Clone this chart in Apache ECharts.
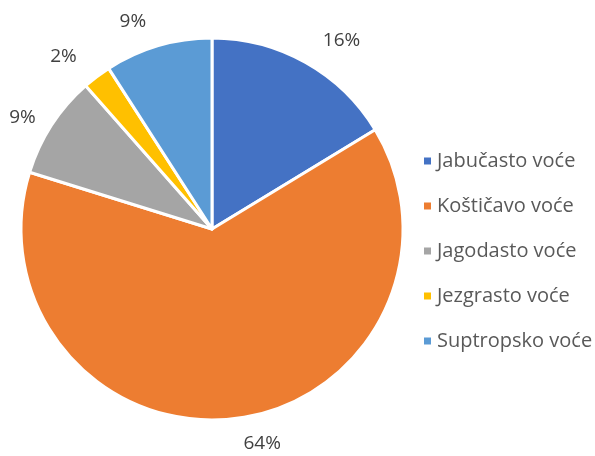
<!DOCTYPE html>
<html>
<head>
<meta charset="utf-8">
<script src="https://cdn.jsdelivr.net/npm/echarts@6/dist/echarts.min.js"></script>
<style>
html,body{margin:0;padding:0;background:#fff;}
#main{width:595px;height:456px;}
</style>
</head>
<body>
<div id="main"></div>
<script>
var names = ['Jabučasto voće', 'Koštičavo voće', 'Jagodasto voće', 'Jezgrasto voće', 'Suptropsko voće'];
var values = [16.3, 63.5, 8.7, 2.4, 9.1];
var colors = ['#4472c4', '#ed7d31', '#a5a5a5', '#ffc000', '#5b9bd5'];

var chart = echarts.init(document.getElementById('main'));
var data = [];
for (var i = 0; i < names.length; i++) {
	var d = { name: names[i], value: values[i] };
	// lijevi natpis ne smije izaći iz okvira
	if (i === 2) d.labelLine = { length: 13 };
	data.push(d);
}
var option = {
	color: colors,
	legend: {
		orient: 'vertical',
		left: 417,
		top: 146,
		itemWidth: 9,
		itemHeight: 9,
		itemGap: 25,
		icon: 'rect',
		textStyle: { color: '#595959', fontSize: 20, lineHeight: 20, fontFamily: 'Open Sans' },
		data: names
	},
	series: [{
		type: 'pie',
		center: [212, 229],
		radius: 191,
		startAngle: 90,
		clockwise: true,
		animation: false,
		itemStyle: { borderColor: '#fff', borderWidth: 3 },
		label: {
			show: true,
			position: 'outside',
			overflow: 'none',
			color: '#404040',
			fontSize: 19,
			fontFamily: 'Open Sans',
			formatter: function (p) { return Math.round(p.percent) + '%'; }
		},
		labelLine: { show: false, length: 25, length2: 0 },
		data: data
	}]
};
chart.setOption(option);
</script>
</body>
</html>
